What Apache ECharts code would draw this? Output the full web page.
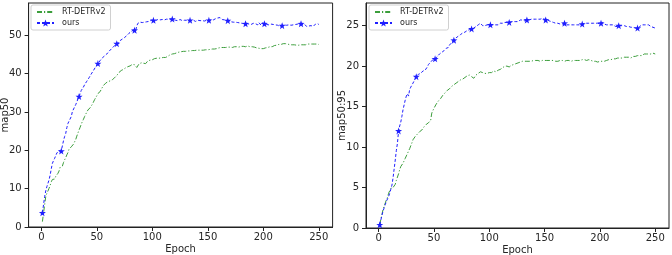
<!DOCTYPE html>
<html>
<head>
<meta charset="utf-8">
<script src="https://cdn.jsdelivr.net/npm/echarts@6/dist/echarts.min.js"></script>
<style>
  html, body { margin: 0; padding: 0; background: #fff; }
  #chart { width: 672px; height: 255px; }
</style>
</head>
<body>
<div id="chart"></div>
<script>
// epochs 1..250
const epochs = Array.from({ length: 250 }, (_, i) => i + 1);

// left: map50
const rtMap50 = [
  1.4, 3.6, 5.8, 7.9, 8.8, 9.4, 10.1, 10.9, 11.8, 12.4,
  12.8, 12.5, 13.2, 13.6, 14.0, 14.6, 15.6, 15.3, 15.9, 16.8,
  17.5, 18.1, 18.8, 19.4, 20.3, 20.6, 20.9, 21.4, 21.6, 21.9,
  22.8, 23.7, 24.5, 25.3, 26.0, 26.8, 27.5, 28.1, 28.8, 29.4,
  29.9, 30.5, 30.9, 31.1, 31.4, 32.0, 32.6, 33.2, 33.7, 34.2,
  34.8, 35.1, 35.3, 35.9, 36.4, 36.9, 37.3, 37.5, 37.7, 37.9,
  38.3, 38.1, 38.6, 38.4, 38.8, 38.9, 39.1, 39.5, 39.9, 40.3,
  40.5, 40.8, 41.0, 41.1, 41.2, 41.5, 41.7, 41.8, 42.0, 42.0,
  42.2, 42.4, 42.6, 42.3, 41.9, 41.6, 41.9, 42.5, 42.7, 42.8,
  42.9, 42.7, 42.3, 42.6, 43.0, 43.3, 43.4, 43.5, 43.6, 43.6,
  43.8, 43.9, 43.8, 44.0, 44.1, 44.0, 44.2, 44.1, 44.3, 44.2,
  44.3, 44.2, 44.3, 44.5, 44.7, 44.9, 45.0, 45.1, 45.1, 45.2,
  45.3, 45.4, 45.5, 45.6, 45.6, 45.7, 45.8, 45.8, 45.9, 45.8,
  45.9, 45.9, 46.0, 45.9, 46.0, 46.0, 46.1, 46.0, 46.0, 46.1,
  46.0, 46.1, 46.0, 46.1, 46.2, 46.1, 46.2, 46.2, 46.3, 46.2,
  46.3, 46.3, 46.4, 46.4, 46.5, 46.4, 46.5, 46.5, 46.6, 46.7,
  46.7, 46.8, 46.7, 46.8, 46.9, 46.8, 46.8, 46.9, 46.8, 46.9,
  46.9, 46.8, 46.9, 47.0, 46.9, 47.0, 47.0, 46.9, 47.0, 47.1,
  47.0, 47.1, 47.1, 47.0, 47.1, 47.2, 47.1, 47.0, 47.1, 47.0,
  47.1, 46.9, 46.8, 46.7, 46.6, 46.6, 46.5, 46.5, 46.6, 46.5,
  46.6, 46.7, 46.6, 46.8, 46.9, 47.0, 47.1, 47.0, 47.2, 47.3,
  47.3, 47.4, 47.5, 47.6, 47.5, 47.6, 47.7, 47.8, 47.7, 47.8,
  47.8, 47.7, 47.6, 47.5, 47.6, 47.5, 47.4, 47.5, 47.3, 47.4,
  47.3, 47.4, 47.4, 47.5, 47.4, 47.5, 47.6, 47.5, 47.6, 47.7,
  47.6, 47.7, 47.6, 47.7, 47.6, 47.7, 47.6, 47.7, 47.6, 47.6
];
const oursMap50 = [
  3.7, 5.8, 7.9, 9.4, 10.5, 11.4, 12.3, 13.6, 15.2, 16.6,
  17.3, 17.9, 18.6, 19.3, 19.7, 19.9, 19.8, 19.8, 21.2, 22.5,
  23.6, 24.4, 25.9, 27.0, 27.6, 28.1, 28.8, 30.1, 30.6, 31.3,
  31.9, 32.6, 33.4, 34.0, 34.8, 35.6, 36.0, 36.5, 37.1, 37.6,
  38.0, 38.4, 38.9, 39.3, 39.9, 40.4, 40.8, 41.3, 41.8, 42.2,
  42.6, 42.9, 43.4, 43.6, 44.1, 44.4, 44.6, 44.9, 45.1, 45.3,
  45.8, 46.1, 46.4, 46.6, 47.0, 47.3, 47.6, 47.8, 48.0, 48.3,
  48.6, 48.7, 49.0, 49.2, 49.4, 49.7, 49.9, 50.2, 50.5, 50.8,
  51.0, 51.1, 51.3, 51.3, 51.2, 52.4, 53.1, 53.2, 53.4, 53.3,
  53.3, 53.5, 53.4, 53.6, 53.5, 53.7, 53.6, 53.8, 53.9, 53.8,
  53.9, 54.0, 53.8, 54.0, 54.1, 53.9, 54.0, 54.2, 54.1, 53.9,
  54.0, 54.1, 54.2, 54.0, 54.1, 54.3, 54.2, 54.2, 54.0, 54.1,
  53.9, 54.0, 53.8, 54.0, 54.1, 53.9, 53.8, 54.0, 53.9, 53.7,
  53.9, 54.0, 53.8, 53.9, 53.8, 53.7, 53.9, 53.8, 53.6, 53.8,
  53.9, 53.7, 53.8, 54.0, 53.8, 53.9, 53.7, 53.8, 53.9, 54.0,
  53.9, 54.1, 54.0, 54.2, 54.0, 54.1, 54.3, 54.2, 54.5, 54.7,
  54.6, 54.3, 54.1, 54.2, 54.0, 53.9, 53.9, 53.8, 53.7, 53.6,
  53.5, 53.6, 53.4, 53.3, 53.4, 53.2, 53.3, 53.1, 53.2, 53.0,
  53.1, 52.9, 53.0, 53.0, 53.1, 52.8, 52.9, 53.0, 52.8, 52.9,
  53.1, 52.8, 53.0, 53.2, 52.7, 53.3, 52.9, 52.6, 53.2, 52.9,
  53.0, 53.3, 52.8, 53.1, 52.7, 53.0, 52.9, 52.7, 52.8, 52.6,
  52.7, 52.5, 52.6, 52.4, 52.3, 52.5, 52.5, 52.4, 52.6, 52.5,
  52.6, 52.4, 52.7, 52.5, 52.6, 52.8, 52.7, 52.9, 52.8, 53.0,
  52.9, 53.1, 53.0, 53.0, 52.8, 52.6, 52.9, 52.4, 52.3, 52.6,
  52.4, 52.8, 52.5, 53.0, 52.3, 52.7, 52.9, 52.6, 53.0, 52.8
];

// right: map50:95
const rtMap5095 = [
  0.4, 1.1, 1.7, 2.3, 2.7, 3.1, 3.5, 3.8, 4.3, 4.6,
  4.9, 5.1, 5.0, 4.9, 5.4, 5.9, 6.3, 6.7, 7.2, 7.6,
  7.8, 8.0, 8.3, 8.6, 8.9, 9.2, 9.5, 9.8, 10.0, 10.5,
  10.9, 11.1, 11.3, 11.5, 11.6, 11.7, 11.9, 11.8, 12.1, 12.3,
  12.5, 12.7, 12.8, 12.9, 13.0, 13.1, 13.3, 14.2, 14.5, 14.8,
  15.0, 15.3, 15.5, 15.7, 15.9, 16.0, 16.2, 16.4, 16.6, 16.7,
  16.9, 17.0, 17.1, 17.2, 17.3, 17.5, 17.6, 17.7, 17.8, 17.9,
  18.0, 18.1, 18.2, 18.3, 18.4, 18.4, 18.5, 18.6, 18.7, 18.8,
  18.8, 18.9, 18.8, 18.7, 18.6, 18.5, 18.7, 18.9, 19.0, 19.1,
  19.2, 19.3, 19.3, 19.2, 19.1, 19.1, 19.0, 19.1, 19.2, 19.2,
  19.3, 19.2, 19.3, 19.4, 19.4, 19.3, 19.4, 19.5, 19.5, 19.6,
  19.7, 19.8, 19.9, 20.0, 20.1, 20.0, 20.0, 19.9, 20.0, 20.1,
  20.1, 20.2, 20.3, 20.3, 20.4, 20.4, 20.4, 20.5, 20.5, 20.6,
  20.6, 20.6, 20.5, 20.6, 20.6, 20.6, 20.7, 20.6, 20.6, 20.7,
  20.6, 20.7, 20.6, 20.7, 20.7, 20.6, 20.7, 20.7, 20.6, 20.7,
  20.7, 20.7, 20.8, 20.7, 20.7, 20.7, 20.6, 20.7, 20.6, 20.6,
  20.7, 20.6, 20.7, 20.7, 20.6, 20.7, 20.6, 20.6, 20.7, 20.7,
  20.6, 20.7, 20.6, 20.6, 20.6, 20.7, 20.7, 20.7, 20.8, 20.7,
  20.8, 20.7, 20.8, 20.8, 20.7, 20.8, 20.8, 20.7, 20.8, 20.8,
  20.8, 20.7, 20.7, 20.6, 20.7, 20.6, 20.6, 20.5, 20.6, 20.6,
  20.6, 20.6, 20.7, 20.6, 20.7, 20.7, 20.8, 20.8, 20.9, 20.8,
  20.9, 20.9, 20.8, 20.9, 20.9, 21.0, 20.9, 21.0, 21.0, 21.0,
  21.0, 21.1, 21.0, 21.1, 21.0, 21.1, 21.1, 21.0, 21.1, 21.2,
  21.1, 21.2, 21.2, 21.3, 21.2, 21.3, 21.4, 21.3, 21.4, 21.5,
  21.4, 21.5, 21.6, 21.5, 21.7, 21.5, 21.4, 21.6, 21.5, 21.5
];
const oursMap5095 = [
  0.4, 1.0, 1.6, 2.1, 2.5, 2.9, 3.3, 3.6, 3.9, 4.3,
  4.8, 5.3, 6.2, 7.3, 8.4, 9.6, 10.5, 12.0, 12.6, 13.1,
  13.8, 14.6, 15.2, 15.8, 16.3, 16.6, 16.3, 17.1, 17.4, 17.6,
  17.9, 18.1, 18.4, 18.7, 18.9, 19.0, 19.2, 19.1, 19.3, 19.4,
  19.5, 19.5, 19.7, 19.9, 20.2, 20.3, 20.5, 20.6, 20.8, 20.9,
  20.9, 21.1, 21.2, 21.4, 21.5, 21.6, 21.7, 21.8, 21.9, 22.0,
  22.2, 22.4, 22.3, 22.6, 22.8, 22.9, 23.1, 23.2, 23.4, 23.5,
  23.6, 23.7, 23.8, 23.9, 24.0, 24.1, 24.1, 24.2, 24.3, 24.4,
  24.5, 24.5, 24.6, 24.6, 24.6, 24.7, 24.8, 24.9, 25.0, 25.1,
  25.2, 25.3, 25.2, 25.0, 24.9, 25.0, 25.1, 25.1, 25.0, 25.1,
  25.1, 25.1, 25.0, 25.1, 25.2, 25.1, 25.2, 25.1, 25.2, 25.3,
  25.2, 25.3, 25.2, 25.4, 25.3, 25.4, 25.4, 25.4, 25.3, 25.5,
  25.4, 25.5, 25.6, 25.5, 25.6, 25.5, 25.6, 25.7, 25.6, 25.7,
  25.7, 25.6, 25.7, 25.7, 25.8, 25.7, 25.8, 25.8, 25.7, 25.8,
  25.8, 25.8, 25.9, 25.8, 25.9, 25.8, 25.8, 25.9, 25.8, 25.8,
  25.7, 25.8, 25.7, 25.6, 25.6, 25.5, 25.5, 25.4, 25.4, 25.3,
  25.4, 25.3, 25.3, 25.2, 25.3, 25.2, 25.3, 25.3, 25.2, 25.1,
  25.2, 25.1, 25.2, 25.1, 25.0, 25.1, 25.2, 25.1, 25.2, 25.1,
  25.2, 25.1, 25.1, 25.2, 25.2, 25.3, 25.2, 25.3, 25.4, 25.3,
  25.4, 25.3, 25.4, 25.3, 25.2, 25.3, 25.2, 25.3, 25.3, 25.2,
  25.3, 25.4, 25.3, 25.2, 25.2, 25.1, 25.2, 25.1, 25.0, 25.1,
  25.0, 25.1, 25.0, 24.9, 25.0, 24.9, 25.0, 25.0, 24.9, 25.0,
  24.9, 25.0, 24.9, 24.9, 24.8, 24.9, 24.8, 24.8, 24.9, 24.8,
  24.8, 24.7, 24.8, 24.7, 24.8, 24.9, 25.0, 25.1, 25.0, 25.1,
  25.2, 25.1, 25.2, 25.1, 25.0, 24.9, 24.9, 24.8, 24.7, 24.7
];

// star markers on "ours" (every ~16.7 epochs)
const markerIdx = [0, 17, 33, 50, 67, 83, 100, 117, 133, 150, 167, 183, 200, 216, 233];
const xTicks = [0, 50, 100, 150, 200, 250];
const yTicksLeft = [0, 10, 20, 30, 40, 50];
const yTicksRight = [0, 5, 10, 15, 20, 25];

const STAR = 'path://M0,-10L2.35,-3.24L9.51,-3.09L3.8,1.24L5.88,8.09L0,4L-5.88,8.09L-3.8,1.24L-9.51,-3.09L-2.35,-3.24Z';
const FONT = 'DejaVu Sans';
const TXT = '#262626';
const GREEN = '#3c9e3c';
const BLUE = '#1f1fff';

const pairs = vals => vals.map((v, i) => [epochs[i], v]);
const starred = vals =>
  vals.map((v, i) => (markerIdx.includes(i) ? { value: [epochs[i], v] } : { value: [epochs[i], v], symbol: 'none' }));

const makeX = idx => ({
  type: 'value',
  gridIndex: idx,
  min: -11.45,
  max: 262.45,
  name: 'Epoch',
  nameLocation: 'middle',
  nameGap: 17,
  nameMoveOverlap: false,
  nameTextStyle: { color: TXT, fontFamily: FONT, fontSize: 10 },
  axisLine: { show: true, onZero: false, lineStyle: { color: '#222', width: 1 } },
  axisTick: { show: true, length: 4, lineStyle: { color: '#222' }, customValues: xTicks },
  axisLabel: { color: TXT, fontFamily: FONT, fontSize: 10, margin: 5, customValues: xTicks },
  splitLine: { show: false },
});

const makeY = (idx, name, max, ticks, gap) => ({
  type: 'value',
  gridIndex: idx,
  min: 0,
  max: max,
  name: name,
  nameLocation: 'middle',
  nameGap: gap,
  nameMoveOverlap: false,
  nameTextStyle: { color: TXT, fontFamily: FONT, fontSize: 10 },
  axisLine: { show: true, onZero: false, lineStyle: { color: '#222', width: 1 } },
  axisTick: { show: true, length: 4, lineStyle: { color: '#222' }, customValues: ticks },
  axisLabel: { color: TXT, fontFamily: FONT, fontSize: 10, margin: 7, customValues: ticks },
  splitLine: { show: false },
});

const makeLegend = left => ({
  left: left,
  top: 5,
  orient: 'vertical',
  itemWidth: 17,
  itemHeight: 9,
  itemGap: 3,
  padding: [3, 5, 3, 5],
  borderColor: '#d0d0d0',
  borderWidth: 1,
  borderRadius: 2,
  backgroundColor: '#fff',
  textStyle: { color: TXT, fontFamily: FONT, fontSize: 8, padding: [0, 0, 0, 3] },
  data: [
    { name: 'RT-DETRv2', itemStyle: { color: 'rgba(0,0,0,0)', borderWidth: 0 } },
    'ours',
  ],
  selectedMode: false,
});

const rtSeries = (idx, vals) => ({
  name: 'RT-DETRv2',
  type: 'line',
  xAxisIndex: idx,
  yAxisIndex: idx,
  showSymbol: false,
  symbol: 'none',
  animation: false,
  lineStyle: { color: GREEN, width: 1, type: [5, 2, 1.2, 2] },
  itemStyle: { color: GREEN },
  data: pairs(vals),
});

const oursSeries = (idx, vals) => ({
  name: 'ours',
  type: 'line',
  xAxisIndex: idx,
  yAxisIndex: idx,
  symbol: STAR,
  symbolSize: 7,
  showSymbol: true,
  showAllSymbol: true,
  animation: false,
  lineStyle: { color: BLUE, width: 1, type: [3, 2] },
  itemStyle: { color: BLUE },
  data: starred(vals),
  z: 3,
});

const chart = echarts.init(document.getElementById('chart'));
chart.setOption({
  backgroundColor: '#fff',
  animation: false,
  grid: [
    { left: 28.6, top: 3, width: 304, height: 224, outerBoundsMode: 'none', show: true, borderColor: '#222', borderWidth: 1, backgroundColor: 'transparent' },
    { left: 366, top: 3, width: 303, height: 225, outerBoundsMode: 'none', show: true, borderColor: '#222', borderWidth: 1, backgroundColor: 'transparent' },
  ],
  legend: [makeLegend(31), makeLegend(369)],
  xAxis: [makeX(0), makeX(1)],
  yAxis: [
    makeY(0, 'map50', 58.4, yTicksLeft, 18),
    makeY(1, 'map50:95', 27.8, yTicksRight, 19),
  ],
  series: [
    rtSeries(0, rtMap50),
    oursSeries(0, oursMap50),
    rtSeries(1, rtMap5095),
    oursSeries(1, oursMap5095),
  ],
});
</script>
</body>
</html>
